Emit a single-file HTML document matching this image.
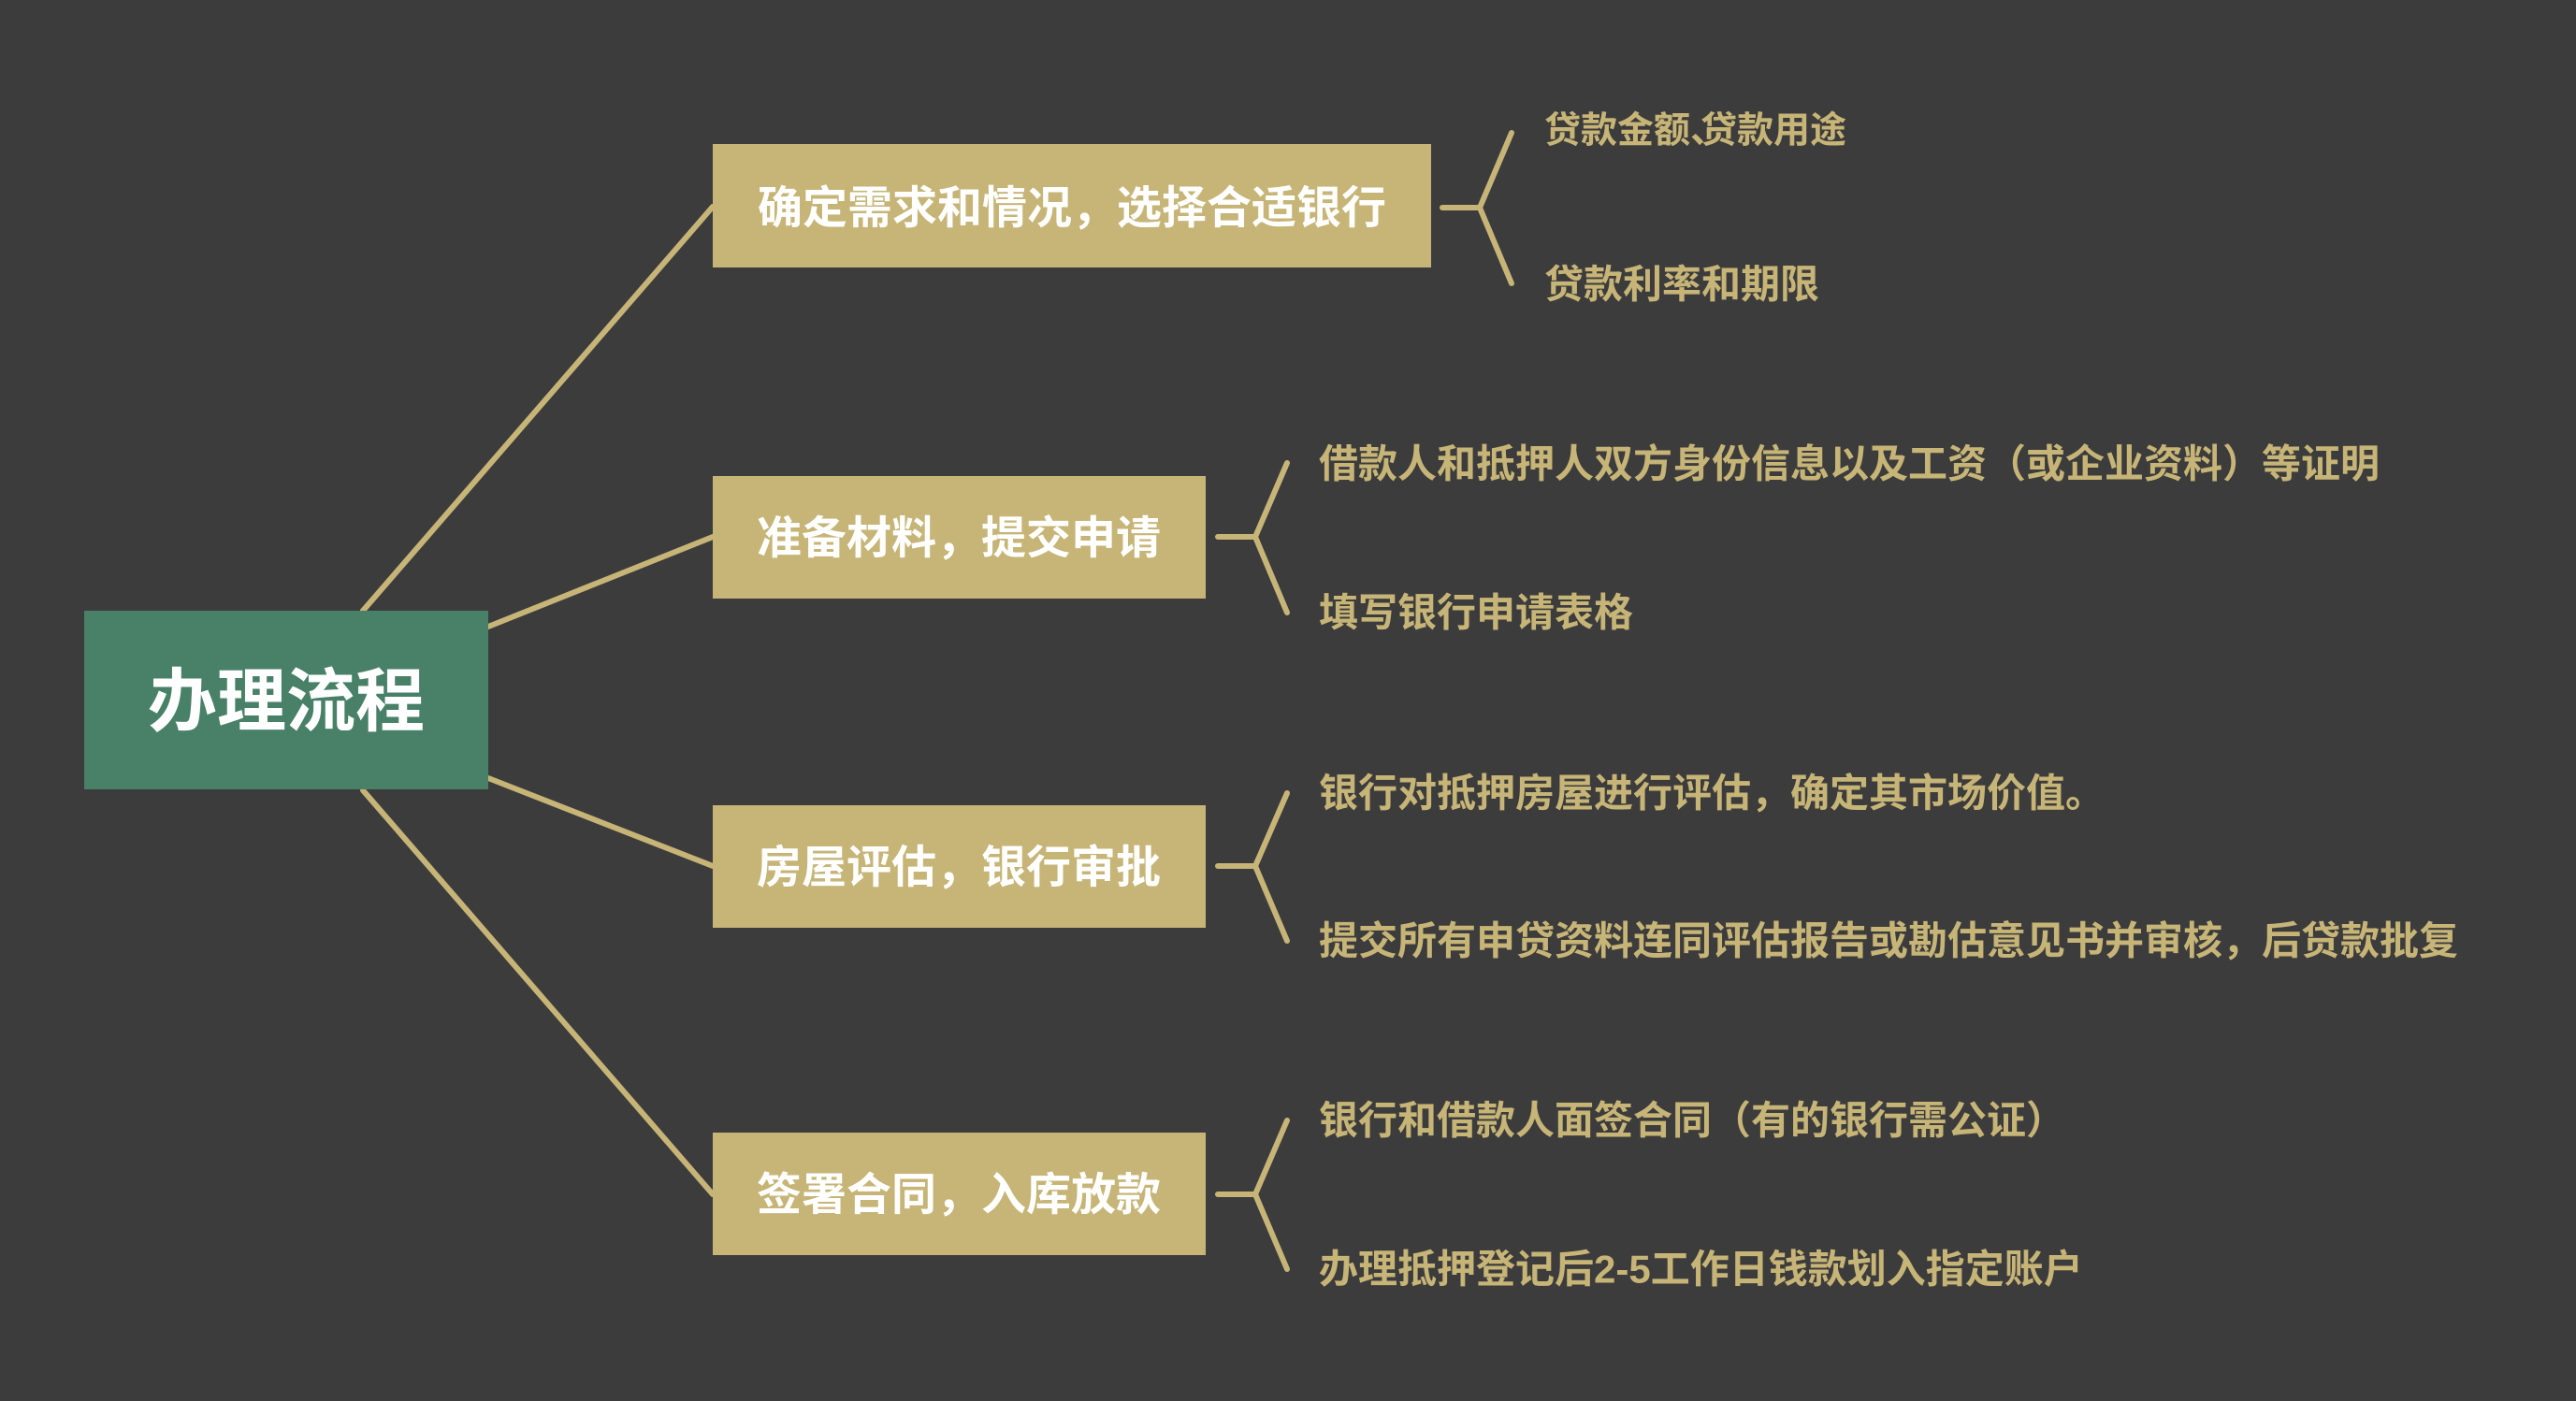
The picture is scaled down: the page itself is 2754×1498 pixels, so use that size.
<!DOCTYPE html>
<html><head><meta charset="utf-8"><style>
html,body{margin:0;padding:0;background:#3d3c3d;}
svg{display:block;}
text{font-family:"Liberation Sans","Noto Sans CJK SC",sans-serif;font-weight:bold;}
</style></head><body>
<svg width="2754" height="1498" viewBox="0 0 2754 1498" xmlns="http://www.w3.org/2000/svg">
<rect width="2754" height="1498" fill="#3d3c3d"/>
<g stroke="#c6b577" stroke-width="6" fill="none" stroke-linecap="round">
<line x1="388" y1="653" x2="762" y2="221"/>
<line x1="522" y1="670" x2="762" y2="574"/>
<line x1="522" y1="832" x2="762" y2="926"/>
<line x1="388" y1="845" x2="762" y2="1277"/>
<polyline points="1542,222 1582,222 1616,142"/><line x1="1582" y1="222" x2="1616" y2="303"/>
<polyline points="1302,574 1342,574 1376,495"/><line x1="1342" y1="574" x2="1376" y2="655"/>
<polyline points="1302,926 1342,926 1376,848"/><line x1="1342" y1="926" x2="1376" y2="1006"/>
<polyline points="1302,1277 1342,1277 1376,1198"/><line x1="1342" y1="1277" x2="1376" y2="1357"/>
</g>
<rect x="90" y="653" width="432" height="191" fill="#488068"/>
<text x="306" y="750" fill="#fff" font-size="74" text-anchor="middle" dominant-baseline="central">办理流程</text>
<g fill="#c6b577">
<rect x="762" y="154" width="768" height="132"/>
<rect x="762" y="509" width="527" height="131"/>
<rect x="762" y="861" width="527" height="131"/>
<rect x="762" y="1211" width="527" height="131"/>
</g>
<g fill="#fff" font-size="48" text-anchor="middle" dominant-baseline="central">
<text x="1146" y="223">确定需求和情况，选择合适银行</text>
<text x="1025" y="576">准备材料，提交申请</text>
<text x="1025" y="928">房屋评估，银行审批</text>
<text x="1025" y="1278">签署合同，入库放款</text>
</g>
<g fill="#c6b577" font-size="42" dominant-baseline="central">
<text x="1651" y="140" font-size="39">贷款金额、</text>
<text x="1818" y="140" font-size="39">贷款用途</text>
<text x="1651" y="304">贷款利率和期限</text>
<text x="1410" y="496">借款人和抵押人双方身份信息以及工资（或企业资料）等证明</text>
<text x="1410" y="655">填写银行申请表格</text>
<text x="1410" y="848">银行对抵押房屋进行评估，确定其市场价值。</text>
<text x="1410" y="1006">提交所有申贷资料连同评估报告或勘估意见书并审核，后贷款批复</text>
<text x="1410" y="1198">银行和借款人面签合同（有的银行需公证）</text>
<text x="1410" y="1357">办理抵押登记后2-5工作日钱款划入指定账户</text>
</g>
</svg>
</body></html>
